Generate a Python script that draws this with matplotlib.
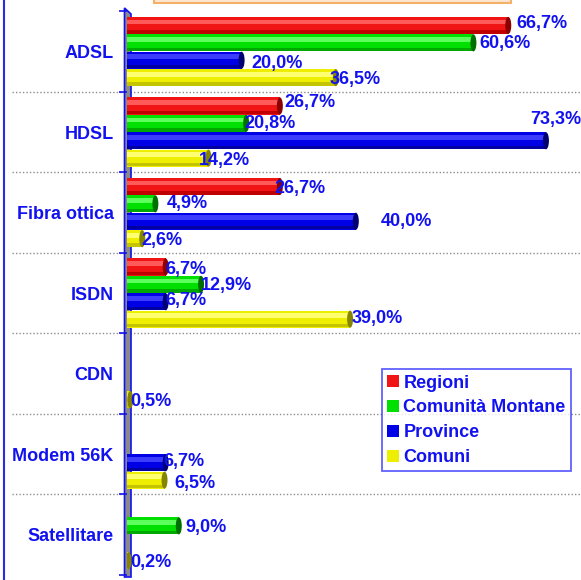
import matplotlib

matplotlib.use("Agg")
import matplotlib.pyplot as plt
from matplotlib.lines import Line2D
from matplotlib.patches import Ellipse, Patch, Polygon, Rectangle
from matplotlib.transforms import blended_transform_factory


CATEGORIES = ["ADSL", "HDSL", "Fibra ottica", "ISDN", "CDN", "Modem 56K", "Satellitare"]
SERIES = ["Regioni", "Comunità Montane", "Province", "Comuni"]
REGIONI = [66.7, 26.7, 26.7, 6.7, 0, 0, 0]
COMUNITA_MONTANE = [60.6, 20.8, 4.9, 12.9, 0, 0, 9.0]
PROVINCE = [20.0, 73.3, 40.0, 6.7, 0, 6.7, 0]
COMUNI = [36.5, 14.2, 2.6, 39.0, 0.5, 6.5, 0.2]

# label nudges in pixels (dx from bar end, dy downward), per category / series
LABEL_NUDGE = [
    [(8, -2), (6, 1), (10, 3), (-6, 2)],
    [(5, -3), (-2, 0), (-16, -21), (-10, 2)],
    [(-5, 2), (11, 0), (25, 0), (-1, 2)],
    [(0, 3), (0, 1), (0, -1), (2, -1)],
    [(0, 0), (0, 0), (0, 0), (0, 2)],
    [(0, 0), (0, 0), (-2, -1), (10, 3)],
    [(0, 0), (7, 2), (0, 0), (2, 2)],
]

# main, light, shade, cap
COLORS = [
    ("#f01414", "#ff5a5a", "#c00000", "#8b0000"),
    ("#00e000", "#5cff5c", "#00a800", "#007000"),
    ("#0000e6", "#3c3cff", "#0000a0", "#000070"),
    ("#eeee00", "#ffff70", "#c4c400", "#858500"),
]
TEXT_BLUE = "#1212f0"

W, H = 581, 580


def px_x(x):
    return x / W


def px_y(y):
    return 1 - y / H


plt.rcParams.update({"font.family": ["Liberation Sans", "DejaVu Sans"], "font.weight": "bold"})

fig = plt.figure(figsize=(5.81, 5.80), dpi=100)
fig.patch.set_facecolor("white")

ax_left, ax_right = 127.4, 580
ax_top, ax_bottom = 11.3, 574.8
ax = fig.add_axes([px_x(ax_left), px_y(ax_bottom), (ax_right - ax_left) / W, (ax_bottom - ax_top) / H])
ax.patch.set_visible(False)
ax.set_xlim(0, (ax_right - ax_left) / 5.71)
ax.set_ylim(len(CATEGORIES) - 0.5, -0.5)
for sp in ax.spines.values():
    sp.set_visible(False)

series_values = [REGIONI, COMUNITA_MONTANE, PROVINCE, COMUNI]
step = 0.216
bh = 0.212
cap_w = 6 / 5.71

for si, values in enumerate(series_values):
    main, light, shade, cap = COLORS[si]
    for ci, v in enumerate(values):
        if v <= 0:
            continue
        y = ci + (si - 1.5) * step
        ax.barh(y, v, height=bh, color=main, linewidth=0, zorder=3)
        ax.barh(y - bh * 0.2, v, height=bh * 0.28, color=light, linewidth=0, zorder=3)
        ax.barh(y + bh * 0.38, v, height=bh * 0.2, color=shade, linewidth=0, zorder=3)
        ax.add_patch(Ellipse((v, y), cap_w, bh, facecolor=cap, edgecolor="none", zorder=4))
        dx, dy = LABEL_NUDGE[ci][si]
        label = f"{v:.1f}".replace(".", ",") + "%"
        ax.annotate(
            label,
            (v, y),
            xytext=(dx * 0.72, -dy * 0.72),
            textcoords="offset points",
            ha="left",
            va="center",
            fontsize=13,
            fontweight="bold",
            color=TEXT_BLUE,
            zorder=5,
            annotation_clip=False,
        )

ax.set_xticks([])
ax.set_yticks(range(len(CATEGORIES)))
ax.set_yticklabels(CATEGORIES, fontsize=13, fontweight="bold", color=TEXT_BLUE)
ax.tick_params(axis="y", which="major", length=0, pad=10)
ax.set_yticks([i - 0.5 for i in range(len(CATEGORIES) + 1)], minor=True)
ax.tick_params(axis="y", which="minor", length=6, width=1.2, color=TEXT_BLUE)

# dotted separators between categories
blend = blended_transform_factory(fig.transFigure, ax.transData)
for i in range(1, len(CATEGORIES)):
    fig.add_artist(
        Line2D([px_x(12), 1], [i - 0.5, i - 0.5], transform=blend, color="#8c8c8c",
               linewidth=1.0, linestyle=(0, (1, 1.5)), zorder=-2)
    )

# the wall of the value axis
wall = Polygon(
    [(px_x(124.5), px_y(577)), (px_x(131), px_y(577)), (px_x(131), px_y(14)), (px_x(124.5), px_y(8))],
    closed=True, transform=fig.transFigure, facecolor="#8a8a8a", edgecolor=TEXT_BLUE, linewidth=1.2, zorder=-1,
)
fig.add_artist(wall)

# left border and the cut title box
fig.add_artist(Line2D([px_x(3.5), px_x(3.5)], [0, 1], transform=fig.transFigure, color="#2a2ae0", linewidth=1.5))
fig.add_artist(
    Rectangle((px_x(154), px_y(2.5)), (511 - 154) / W, 0.05, transform=fig.transFigure,
              facecolor="#fde6cf", edgecolor="#f5b06a", linewidth=1.5)
)

handles = [Patch(facecolor=c[0], edgecolor="none") for c in COLORS]
leg = fig.legend(
    handles,
    SERIES,
    loc="upper left",
    bbox_to_anchor=(px_x(381.7), px_y(369.3)),
    bbox_transform=fig.transFigure,
    prop={"size": 13, "weight": "bold"},
    labelcolor=TEXT_BLUE,
    frameon=True,
    fancybox=False,
    handlelength=0.65,
    handleheight=0.65,
    handletextpad=0.25,
    borderpad=0.3,
    labelspacing=0.43,
    borderaxespad=0,
)
leg.get_frame().set_edgecolor("#3a3aff")
leg.get_frame().set_linewidth(1.3)

fig.savefig("out.png", dpi=100)
